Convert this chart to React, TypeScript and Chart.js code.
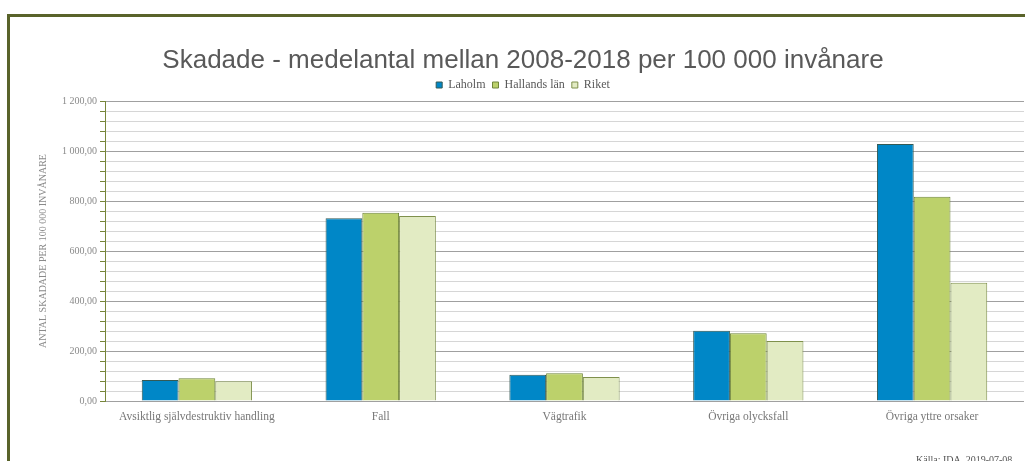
import React, { useEffect, useRef } from 'react';
import { Chart, registerables } from 'chart.js';

Chart.register(...registerables);

const categories = [
  'Avsiktlig självdestruktiv handling',
  'Fall',
  'Vägtrafik',
  'Övriga olycksfall',
  'Övriga yttre orsaker',
];
const seriesNames = ['Laholm', 'Hallands län', 'Riket'];
const laholm = [84, 731, 105, 281, 1028];
const hallands = [91, 753, 111, 271, 817];
const riket = [79, 740, 96, 240, 473];

const yMin = 0;
const yMax = 1200;
const yStep = 40;
const majorStep = 200;

const titleText = 'Skadade - medelantal mellan 2008-2018 per 100 000 invånare';
const yTitleText = 'ANTAL SKADADE PER 100 000 INVÅNARE';
const sourceText = 'Källa: IDA, 2019-07-08';

function fmt(v: number): string {
  const s = v.toFixed(2);
  const [i, d] = s.split('.');
  const ii = i.replace(/\B(?=(\d{3})+(?!\d))/g, ' ');
  return ii + ',' + d;
}

export default function App() {
  const ref = useRef<HTMLCanvasElement | null>(null);

  useEffect(() => {
    if (!ref.current) return;
    const serif = 'Liberation Serif';
    const chart = new Chart(ref.current, {
      type: 'bar',
      data: {
        labels: categories,
        datasets: [
          {
            label: seriesNames[0],
            data: laholm,
            backgroundColor: '#0087c7',
            borderColor: '#345a55',
            borderWidth: 1,
          },
          {
            label: seriesNames[1],
            data: hallands,
            backgroundColor: '#bcd16b',
            borderColor: '#6f853a',
            borderWidth: 1,
          },
          {
            label: seriesNames[2],
            data: riket,
            backgroundColor: '#e2ebc3',
            borderColor: '#7f904c',
            borderWidth: 1,
          },
        ],
      },
      options: {
        responsive: false,
        animation: false,
        datasets: {
          bar: { categoryPercentage: 0.6, barPercentage: 1.0 },
        },
        layout: { padding: { left: 22, right: 1, top: 0, bottom: 30 } },
        plugins: {
          title: {
            display: true,
            text: titleText,
            color: '#595959',
            font: { family: 'Liberation Sans', size: 26, weight: 'normal' },
            padding: { top: 43, bottom: -4 },
          },
          legend: {
            display: true,
            labels: {
              boxWidth: 6,
              boxHeight: 6,
              padding: 7,
              color: '#595959',
              font: { family: serif, size: 12 },
            },
          },
          tooltip: { enabled: false },
        },
        scales: {
          x: {
            grid: { display: false, drawTicks: false },
            border: { display: false },
            ticks: {
              color: '#777777',
              font: { family: serif, size: 11.5 },
              padding: 9,
              maxRotation: 0,
              autoSkip: false,
            },
            afterFit: (s: any) => {
              s.height = 30;
            },
          },
          y: {
            min: yMin,
            max: yMax,
            grid: {
              color: (ctx: any) =>
                ctx.tick && ctx.tick.value % majorStep === 0 ? '#a0a0a0' : '#d6d6d6',
              lineWidth: 1,
              tickLength: 5,
              tickColor: '#77863a',
            },
            border: { display: true, color: '#77863a', width: 1 },
            ticks: {
              stepSize: yStep,
              autoSkip: false,
              maxTicksLimit: 100,
              padding: 3,
              color: '#8a8a8a',
              font: { family: serif, size: 10 },
              callback: (v: any) => (Number(v) % majorStep === 0 ? fmt(Number(v)) : ''),
            },
            title: {
              display: true,
              text: yTitleText,
              color: '#8a8a8a',
              font: { family: serif, size: 10 },
              padding: { top: 15, bottom: 4 },
            },
            afterFit: (s: any) => {
              s.width = 83;
              s.paddingTop = Math.max(s.paddingTop || 0, 101);
            },
          },
        },
      },
    } as any);
    return () => chart.destroy();
  }, []);

  return (
    <div
      style={{
        position: 'fixed',
        left: 0,
        top: 0,
        width: 1025,
        height: 461,
        overflow: 'hidden',
        background: '#ffffff',
      }}
    >
      <div
        style={{
          position: 'absolute',
          left: 7,
          top: 14,
          width: 1200,
          height: 600,
          borderTop: '3px solid #59632a',
          borderLeft: '3px solid #59632a',
          background: '#ffffff',
        }}
      />
      <canvas
        ref={ref}
        width={1025}
        height={461}
        style={{ position: 'absolute', left: 0, top: 0, display: 'block' }}
      />
      <div
        style={{
          position: 'absolute',
          left: 916,
          top: 455,
          fontFamily: 'Liberation Serif',
          fontSize: 10,
          lineHeight: '10px',
          color: '#555555',
          whiteSpace: 'nowrap',
        }}
      >
        {sourceText}
      </div>
    </div>
  );
}
